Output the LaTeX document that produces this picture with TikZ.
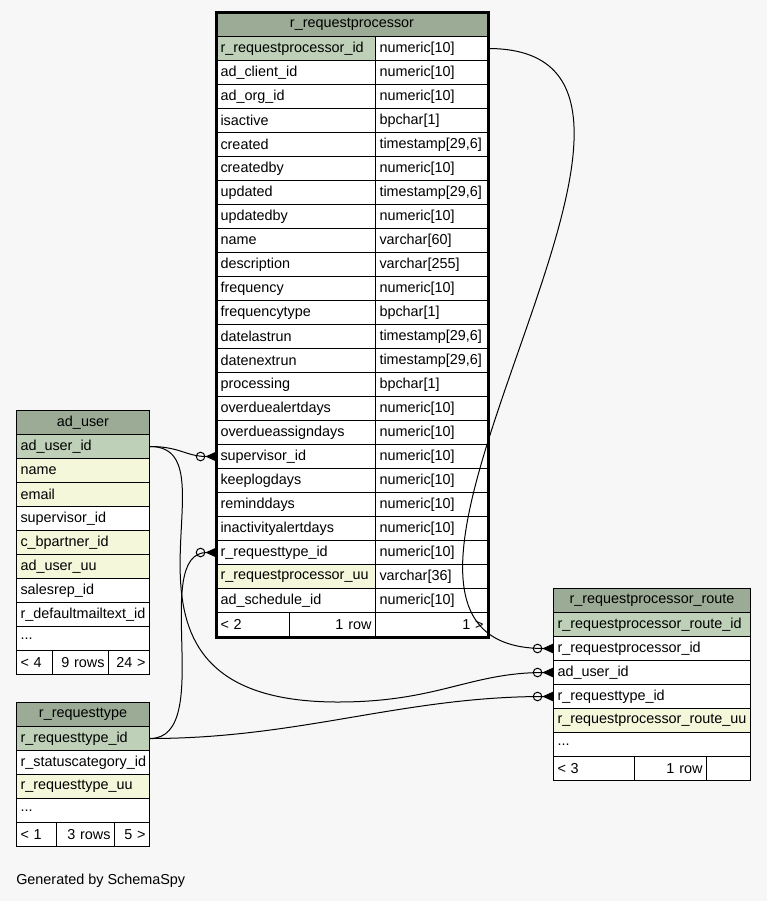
\documentclass[tikz,border=0pt]{standalone}
\usepackage{fontspec}
\setmainfont{Liberation Sans}
\usetikzlibrary{arrows.meta,positioning}
\definecolor{hdrgreen}{HTML}{9BAB96}
\definecolor{pkgreen}{HTML}{BED1B8}
\definecolor{idxyellow}{HTML}{F4F7DA}
\definecolor{pagebg}{HTML}{F7F7F7}
\newcommand{\morecols}{...}

\begin{document}
\begin{tikzpicture}[
  x=0.75pt, y=-0.75pt,
  font=\fontsize{10.8}{13}\selectfont,
  base/.style={draw=black, line width=0.75pt, fill=white, minimum height=18pt,
    inner xsep=3pt, inner ysep=0pt, anchor=north west},
  hdr/.style={base, fill=hdrgreen, minimum width={#1*0.75pt}},
  cell/.style={base, text width={#1*0.75pt-6pt}, align=left},
  rcell/.style={base, text width={#1*0.75pt-6pt}, align=right},
  fk/.style={line width=0.75pt,
    -{Circle[open,length=7.2pt,line width=0.75pt]Triangle[reversed,length=8pt,width=7pt]}}
]
\fill[pagebg] (0,0) rectangle (767,901);

% r_requestprocessor
\node[hdr=271] (rp-h) at (216,12) {r\_requestprocessor};
\foreach \i/\nm/\ty/\cl in {
  1/r\_requestprocessor\_id/numeric[10]/pkgreen,
  2/ad\_client\_id/numeric[10]/white,
  3/ad\_org\_id/numeric[10]/white,
  4/isactive/bpchar[1]/white,
  5/created/{timestamp[29,6]}/white,
  6/createdby/numeric[10]/white,
  7/updated/{timestamp[29,6]}/white,
  8/updatedby/numeric[10]/white,
  9/name/varchar[60]/white,
  10/description/varchar[255]/white,
  11/frequency/numeric[10]/white,
  12/frequencytype/bpchar[1]/white,
  13/datelastrun/{timestamp[29,6]}/white,
  14/datenextrun/{timestamp[29,6]}/white,
  15/processing/bpchar[1]/white,
  16/overduealertdays/numeric[10]/white,
  17/overdueassigndays/numeric[10]/white,
  18/supervisor\_id/numeric[10]/white,
  19/keeplogdays/numeric[10]/white,
  20/reminddays/numeric[10]/white,
  21/inactivityalertdays/numeric[10]/white,
  22/r\_requesttype\_id/numeric[10]/white,
  23/r\_requestprocessor\_uu/varchar[36]/idxyellow,
  24/ad\_schedule\_id/numeric[10]/white}{
  \node[cell=159, fill=\cl] (rp-\i) at (216,{12+24*\i}) {\nm};
  \node[cell=112] (rpt-\i) at (375,{12+24*\i}) {\ty};
}
\node[cell=73] (rp-f1) at (216,612) {< 2};
\node[rcell=86] (rp-f2) at (289,612) {1 row};
\node[rcell=112] (rp-f3) at (375,612) {1 >};
\draw[line width=2.25pt] (rp-h.north west) rectangle (rp-f3.south east);

% ad_user
\node[hdr=133] (au-h) at (16,410) {ad\_user};
\foreach \i/\nm/\cl in {
  1/ad\_user\_id/pkgreen,
  2/name/idxyellow,
  3/email/idxyellow,
  4/supervisor\_id/white,
  5/c\_bpartner\_id/idxyellow,
  6/ad\_user\_uu/idxyellow,
  7/salesrep\_id/white,
  8/r\_defaultmailtext\_id/white,
  9/\morecols/white}{
  \node[cell=133, fill=\cl] (au-\i) at (16,{410+24*\i}) {\nm};
}
\node[cell=36] (au-f1) at (16,650) {< 4};
\node[rcell=56] (au-f2) at (52,650) {9 rows};
\node[rcell=41] (au-f3) at (108,650) {24 >};

% r_requesttype
\node[hdr=133] (rt-h) at (16,702) {r\_requesttype};
\foreach \i/\nm/\cl in {
  1/r\_requesttype\_id/pkgreen,
  2/r\_statuscategory\_id/white,
  3/r\_requesttype\_uu/idxyellow,
  4/\morecols/white}{
  \node[cell=133, fill=\cl] (rt-\i) at (16,{702+24*\i}) {\nm};
}
\node[cell=40] (rt-f1) at (16,822) {< 1};
\node[rcell=58] (rt-f2) at (56,822) {3 rows};
\node[rcell=35] (rt-f3) at (114,822) {5 >};

% r_requestprocessor_route
\node[hdr=197] (ro-h) at (553,588) {r\_requestprocessor\_route};
\foreach \i/\nm/\cl in {
  1/r\_requestprocessor\_route\_id/pkgreen,
  2/r\_requestprocessor\_id/white,
  3/ad\_user\_id/white,
  4/r\_requesttype\_id/white,
  5/r\_requestprocessor\_route\_uu/idxyellow,
  6/\morecols/white}{
  \node[cell=197, fill=\cl] (ro-\i) at (553,{588+24*\i}) {\nm};
}
\node[cell=81] (ro-f1) at (553,756) {< 3};
\node[rcell=72] (ro-f2) at (634,756) {1 row};
\node[rcell=44] (ro-f3) at (706,756) {};

% relationships
\coordinate (dip) at (338,702);
\draw[fk] (rpt-1.east) .. controls +(270,0) and +(-270,0) .. (ro-2.west);
\draw[fk] (au-1.east) .. controls +(30,0) and +(-30,0) .. (rp-18.west);
\draw[fk] (au-1.east) .. controls +(95,0) and +(-265,0) .. (dip)
  .. controls +(100,0) and +(-83,0) .. (ro-3.west);
\draw[fk] (rt-1.east) .. controls +(66,0) and +(-66,0) .. (rp-22.west);
\draw[fk] (rt-1.east) .. controls +(150,0) and +(-150,0) .. (ro-4.west);

\node[anchor=west, inner sep=0pt] (gen) at (16,881) {Generated by SchemaSpy};
\end{tikzpicture}
\end{document}
